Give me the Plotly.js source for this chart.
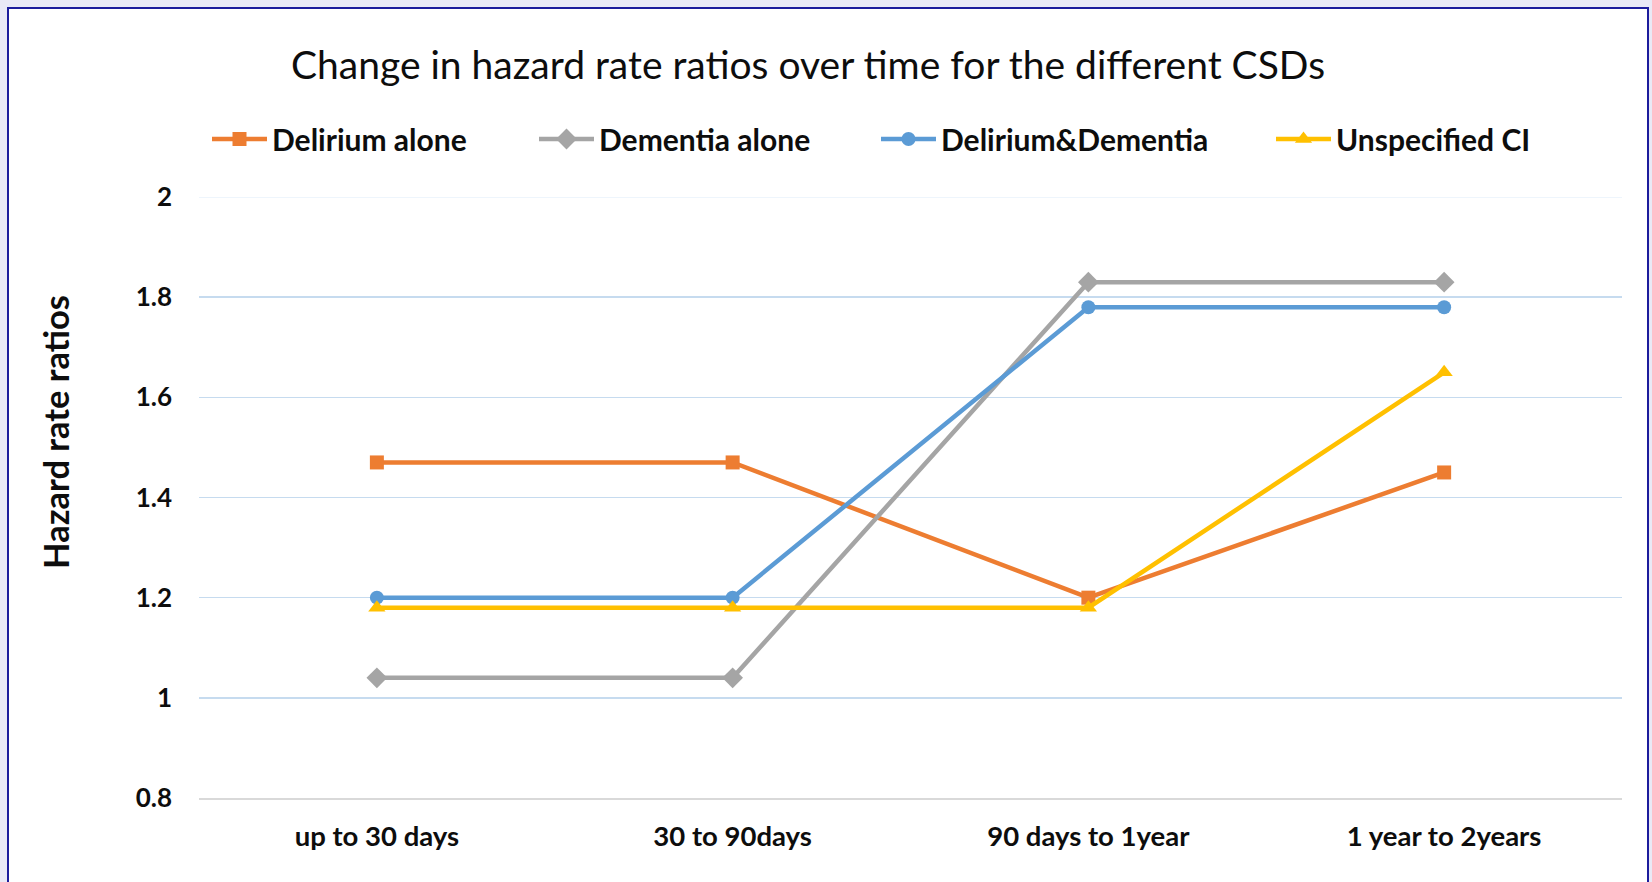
<!DOCTYPE html>
<html>
<head>
<meta charset="utf-8">
<script src="https://cdn.plot.ly/plotly-3.0.1.min.js"></script>
<style>
  html, body { margin: 0; padding: 0; width: 1652px; height: 882px; overflow: hidden; background: #e9e9f6; }
  #frame { position: absolute; left: 7px; top: 7px; width: 1642px; height: 900px; background: #ffffff; border: 2px solid #1c1c9c; box-sizing: border-box; }
  #chart { position: absolute; left: 0; top: 0; width: 1652px; height: 882px; }
</style>
</head>
<body>
<div id="frame"></div>
<div id="chart"></div>
<script>
const categories = ["up to 30 days", "30 to 90days", "90 days to 1year", "1 year to 2years"];
const deliriumAlone = [1.47, 1.47, 1.20, 1.45];
const dementiaAlone = [1.04, 1.04, 1.83, 1.83];
const deliriumDementia = [1.20, 1.20, 1.78, 1.78];
const unspecifiedCI = [1.18, 1.18, 1.18, 1.65];
const yTickVals = [0.8, 1, 1.2, 1.4, 1.6, 1.8, 2];
const yTickText = ["0.8", "1", "1.2", "1.4", "1.6", "1.8", "2"];

const W = 1652, H = 882;
const font = "Lato, 'Open Sans', sans-serif";

function mk(name, y, color, symbol, size, legend) {
  return {
    type: "scatter", mode: "lines+markers", name: name,
    x: categories, y: y, legend: legend,
    line: { color: color, width: 4.5 },
    marker: { color: color, symbol: symbol, size: size },
    hoverinfo: "x+y+name"
  };
}

const traces = [
  mk("Delirium alone", deliriumAlone, "#ED7D31", "square", 14, "legend"),
  mk("Dementia alone", dementiaAlone, "#A5A5A5", "diamond", 16, "legend2"),
  mk("Delirium&Dementia", deliriumDementia, "#5B9BD5", "circle", 14, "legend3"),
  mk("Unspecified CI", unspecifiedCI, "#FFC000", "triangle-up", 15, "legend4")
];

function leg(xpx) {
  return {
    xref: "container", yref: "container",
    x: xpx / W, y: 1 - 139 / H, xanchor: "left", yanchor: "middle",
    orientation: "h", bgcolor: "rgba(0,0,0,0)", borderwidth: 0,
    itemwidth: 55,
    font: { family: font, size: 30, color: "#0d0d0d", weight: 700 }
  };
}

const layout = {
  width: W, height: H,
  paper_bgcolor: "rgba(0,0,0,0)",
  plot_bgcolor: "rgba(0,0,0,0)",
  margin: { l: 199, r: 30, t: 197, b: 84 },
  title: {
    text: "Change in hazard rate ratios over time for the different CSDs",
    xref: "container", yref: "container",
    x: 808 / W, xanchor: "center", y: 1 - 65 / H, yanchor: "middle",
    font: { family: font, size: 39, color: "#0d0d0d" }
  },
  showlegend: true,
  legend: leg(207),
  legend2: leg(534),
  legend3: leg(876),
  legend4: leg(1271),
  xaxis: {
    type: "category",
    showgrid: false, zeroline: false,
    showline: true, linecolor: "#d9d9d9", linewidth: 2,
    ticks: "", ticklabelstandoff: 13,
    tickfont: { family: font, size: 27.5, color: "#0d0d0d", weight: 700 },
    range: [-0.5, 3.5], fixedrange: true
  },
  yaxis: {
    range: [0.8, 2], tickvals: yTickVals, ticktext: yTickText,
    showgrid: true, gridcolor: "#c6dbef", gridwidth: 1.5,
    zeroline: false, showline: false, ticks: "",
    ticklabelstandoff: 26,
    tickfont: { family: font, size: 26, color: "#0d0d0d", weight: 700 },
    fixedrange: true
  },
  annotations: [
    { text: "Hazard rate ratios", xref: "paper", yref: "paper",
      x: (55 - 199) / 1423, y: (798 - 432) / 601,
      xanchor: "center", yanchor: "middle", textangle: -90, showarrow: false,
      font: { family: font, size: 34.5, color: "#0d0d0d", weight: 700 } }
  ],
  shapes: [
    { type: "line", xref: "paper", x0: 0, x1: 1, yref: "y", y0: 2, y1: 2,
      line: { color: "#eef5fc", width: 2 }, layer: "between" }
  ]
};

Plotly.newPlot("chart", traces, layout, { displayModeBar: false, staticPlot: true });
</script>
</body>
</html>
